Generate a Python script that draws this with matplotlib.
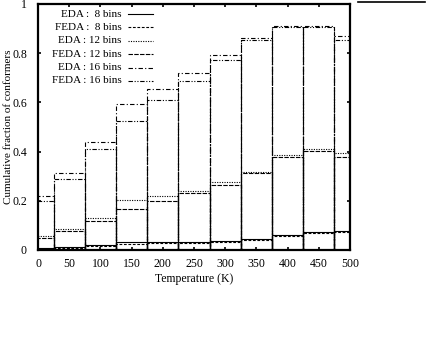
import matplotlib
matplotlib.use("Agg")
import matplotlib.pyplot as plt
from matplotlib.lines import Line2D

plt.rcParams["font.family"] = ["Liberation Serif", "DejaVu Serif"]

# temperatures (bin centres, K)
temps = [0, 50, 100, 150, 200, 250, 300, 350, 400, 450, 500]

# cumulative fractions
eda_8 = [0.008, 0.012, 0.022, 0.034, 0.031, 0.034, 0.035, 0.043, 0.060, 0.072, 0.076]
feda_8 = [0.006, 0.009, 0.018, 0.026, 0.027, 0.028, 0.033, 0.039, 0.056, 0.070, 0.072]
eda_12 = [0.055, 0.084, 0.129, 0.202, 0.221, 0.240, 0.275, 0.318, 0.385, 0.412, 0.393]
feda_12 = [0.050, 0.076, 0.118, 0.167, 0.200, 0.230, 0.264, 0.312, 0.380, 0.404, 0.379]
eda_16 = [0.221, 0.312, 0.439, 0.593, 0.653, 0.718, 0.793, 0.861, 0.910, 0.910, 0.871]
feda_16 = [0.200, 0.287, 0.409, 0.526, 0.611, 0.689, 0.772, 0.855, 0.905, 0.905, 0.854]

labels = ["EDA :  8 bins", "FEDA :  8 bins", "EDA : 12 bins",
          "FEDA : 12 bins", "EDA : 16 bins", "FEDA : 16 bins"]
series = [eda_8, feda_8, eda_12, feda_12, eda_16, feda_16]
styles = ["-", (0, (2.5, 1.5)), (0, (1, 1.2)), (0, (4, 1.2)),
          (0, (4, 2, 1, 2)), (0, (4, 1.5, 1, 1.5, 1, 1.5))]

fig = plt.figure(figsize=(4.28, 3.47), dpi=100)
ax = fig.add_axes([38 / 428, 1 - 250 / 347, 312 / 428, 246 / 347])

# gnuplot-style boxes: each series as unfilled bars of width 50
for vals, ls in zip(series, styles):
    ax.bar(temps, vals, width=50, fill=False, edgecolor="black",
           linestyle=ls, linewidth=0.8)

ax.set_xlim(0, 500)
ax.set_ylim(0, 1)
ax.set_xticks(temps)
ax.set_yticks([0, 0.2, 0.4, 0.6, 0.8, 1])
ax.set_yticklabels(["0", "0.2", "0.4", "0.6", "0.8", "1"])
ax.tick_params(direction="in", length=2.5, width=1.2, labelsize=8.5,
               top=True, right=True)
ax.tick_params(axis="y", pad=8)
ax.tick_params(axis="x", pad=6)
for sp in ax.spines.values():
    sp.set_linewidth(1.6)

ax.set_xlabel("Temperature (K)", fontsize=8.5)
ax.set_ylabel("Cumulative fraction of conformers", fontsize=8)
ax.xaxis.set_label_coords(0.5, -0.092)
ax.yaxis.set_label_coords(-0.079, 0.5)

# legend, gnuplot style: right-aligned text then line sample
row_y = [0.959, 0.905, 0.850, 0.796, 0.741, 0.687]
for lab, ls, yy in zip(labels, styles, row_y):
    ax.text(0.268, yy, lab, transform=ax.transAxes, ha="right", va="center",
            fontsize=8)
    ax.plot([0.287, 0.370], [yy, yy], transform=ax.transAxes,
            color="black", linestyle=ls, linewidth=0.8)

# stray rule at the top right of the page
fig.add_artist(Line2D([358 / 428, 425 / 428], [1 - 1.5 / 347] * 2,
                      transform=fig.transFigure, color="black", linewidth=1.2))

fig.savefig("out.png", dpi=100)
